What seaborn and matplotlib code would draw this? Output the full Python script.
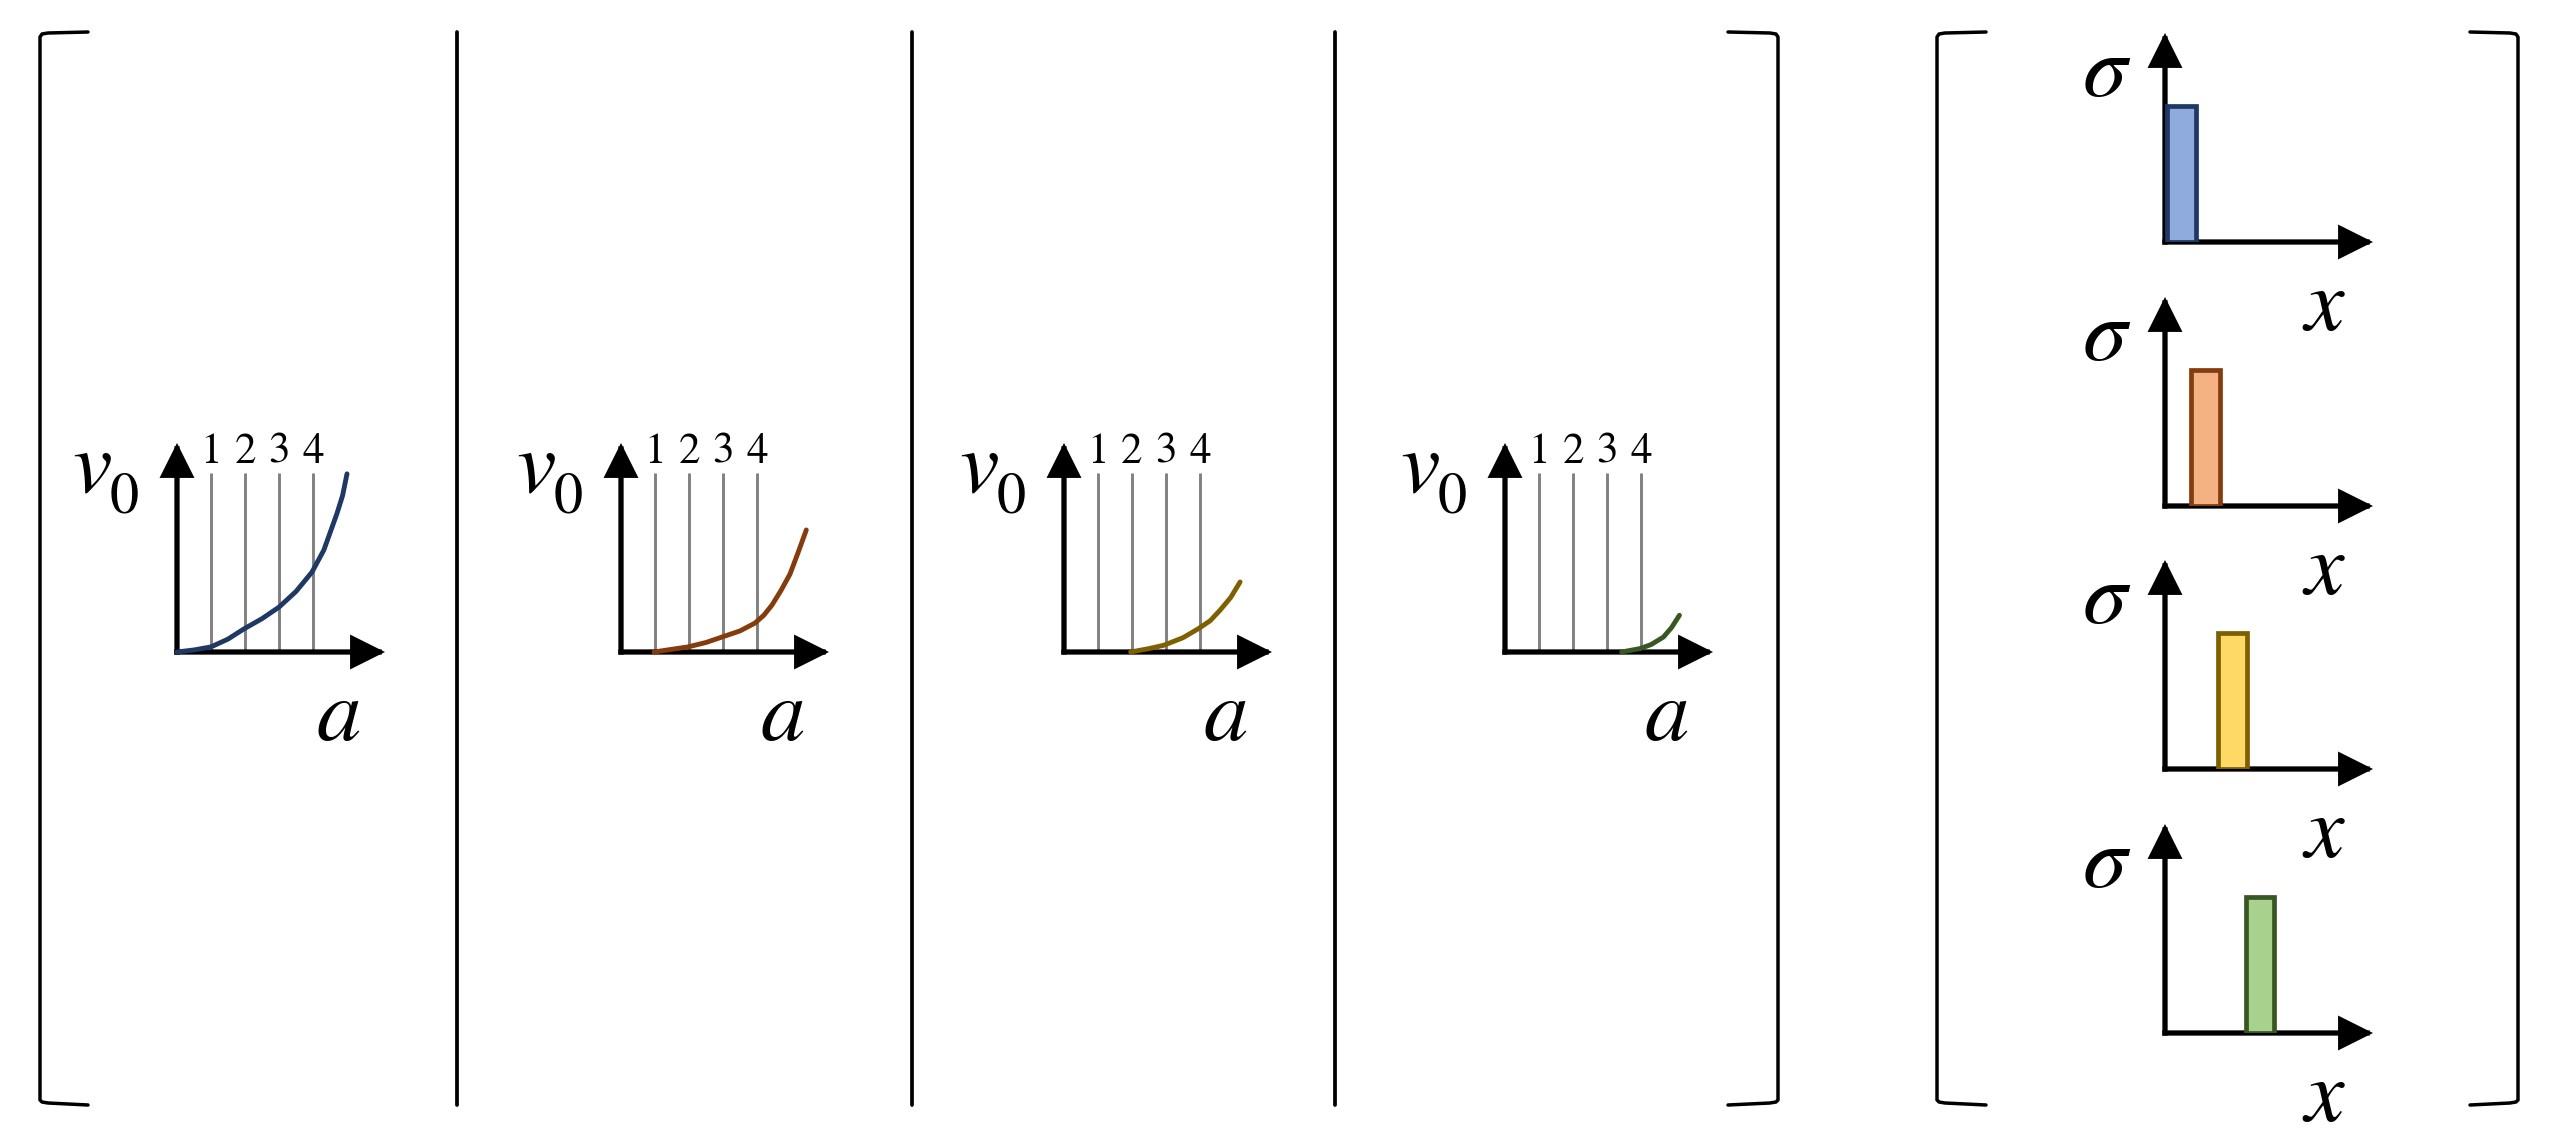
import numpy as np
import pandas as pd
import matplotlib
matplotlib.use('Agg')
import matplotlib.pyplot as plt
import seaborn as sns

W, H = 2553, 1135

# gray guide lines in the v0(a) panels
a_ticks = [1, 2, 3, 4]
tick_labels = ['1', '2', '3', '4']

# v0(a) curves, one per panel
a_1 = [0, 0.5, 1, 1.5, 1.97, 2.5, 3, 3.5, 3.97, 4.32, 4.7, 4.87, 5.0]
v0_1 = [0, 0.06, 0.15, 0.38, 0.68, 0.98, 1.32, 1.78, 2.35, 3.0, 4.06, 4.6, 5.24]
a_2 = [0.97, 1.5, 1.97, 2.5, 2.97, 3.5, 3.94, 4.2, 4.44, 4.7, 4.97, 5.2, 5.45]
v0_2 = [0, 0.08, 0.15, 0.28, 0.44, 0.62, 0.85, 1.08, 1.38, 1.8, 2.29, 2.9, 3.59]
a_3 = [1.96, 2.5, 2.94, 3.5, 3.96, 4.3, 4.59, 4.9, 5.18]
v0_3 = [0, 0.1, 0.2, 0.42, 0.69, 0.92, 1.23, 1.6, 2.06]
a_4 = [3.43, 3.97, 4.3, 4.66, 4.9, 5.13]
v0_4 = [0, 0.1, 0.22, 0.44, 0.72, 1.08]
curves_a = [a_1, a_2, a_3, a_4]
curves_v0 = [v0_1, v0_2, v0_3, v0_4]

# sigma(x) bars, one per panel
bar_x = [0.63, 1.56, 2.6, 3.65]
bar_h = [5.25, 5.25, 5.25, 5.25]

line_colors = ['#1F3864', '#843C0C', '#7F6000', '#385723']
bar_faces = ['#8FAADC', '#F4B183', '#FFD966', '#A9D18E']

sns.set_style('white')
SERIF = ['STIXGeneral', 'Liberation Serif', 'DejaVu Serif']
plt.rcParams['font.family'] = SERIF
plt.rcParams['text.color'] = 'black'

fig = plt.figure(figsize=(W / 100, H / 100), dpi=100)

# frame: brackets and separators, in pixel coordinates
bg = fig.add_axes([0, 0, 1, 1])
bg.set_xlim(0, W)
bg.set_ylim(H, 0)
bg.set_axis_off()


def bracket(x, x_end):
    s = 1 if x_end > x else -1
    xs = [x_end, x + s * 8, x + s * 2, x, x, x + s * 2, x + s * 8, x_end]
    ys = [32, 33, 34, 37, 1100, 1102, 1103, 1105]
    bg.plot(xs, ys, color='black', lw=2.5, solid_joinstyle='round')


bracket(40, 88)
bracket(1778, 1728)
bracket(1937, 1986)
bracket(2518, 2470)
for sx in [457, 912, 1335]:
    bg.plot([sx, sx], [32, 1105], color='black', lw=2.7)

AX_W, AX_H = 208, 209


def small_axes(x0, y0, unit):
    ax = fig.add_axes([x0 / W, 1 - y0 / H, AX_W / W, AX_H / H])
    ax.set_xlim(0, AX_W / unit)
    ax.set_ylim(0, AX_H / unit)
    ax.set_axis_off()
    style = '-|>,head_length=19,head_width=9.5'
    for tip in [(AX_W / unit, 0), (0, AX_H / unit)]:
        ax.annotate('', xy=tip, xytext=(0, 0),
                    arrowprops=dict(arrowstyle=style, color='black', lw=3.8,
                                    mutation_scale=1, shrinkA=0, shrinkB=0,
                                    joinstyle='miter', capstyle='projecting'),
                    annotation_clip=False, zorder=3)
    return ax


# v0(a) panels
for i, x0 in enumerate([177, 621, 1064, 1505]):
    ax = small_axes(x0, 652, 34)
    ax.vlines(a_ticks, 0, 5.26, colors='#808080', lw=2.1, zorder=2)
    for t, lab in zip(a_ticks, tick_labels):
        ax.text(t, 5.56, lab, fontsize=31, family=SERIF, ha='center', va='baseline')
    sns.lineplot(x=curves_a[i], y=curves_v0[i], ax=ax, color=line_colors[i],
                 linewidth=3.5, sort=False, estimator=None, zorder=5,
                 clip_on=False, solid_joinstyle='round')
    ax.set_xlim(0, AX_W / 34)
    ax.set_ylim(0, AX_H / 34)
    ax.set_axis_off()
    ax.text(-3.09, 4.71, 'v', fontsize=64, family=SERIF, style='italic',
            ha='left', va='baseline')
    ax.text(-1.97, 4.09, '0', fontsize=42, family=SERIF, ha='left', va='baseline')
    ax.text(4.76, -2.59, 'a', fontsize=64, family=SERIF, style='italic',
            ha='center', va='baseline')

# sigma(x) panels
for i, y0 in enumerate([242, 506, 769, 1033]):
    ax = small_axes(2165, y0, 26)
    df = pd.DataFrame({'x': [bar_x[i]], 'sigma': [bar_h[i]]})
    sns.barplot(data=df, x='x', y='sigma', native_scale=True, width=1.09,
                color=bar_faces[i], saturation=1, edgecolor=line_colors[i],
                linewidth=3.4, errorbar=None, ax=ax, zorder=5)
    ax.set_xlim(0, AX_W / 26)
    ax.set_ylim(0, AX_H / 26)
    ax.set_axis_off()
    ax.text(-2.31, 5.62, 'σ', fontsize=64, family=SERIF, style='italic',
            ha='center', va='baseline')
    ax.text(6.12, -3.38, 'x', fontsize=64, family=SERIF, style='italic',
            ha='center', va='baseline')

fig.savefig('out.png', dpi=100)
